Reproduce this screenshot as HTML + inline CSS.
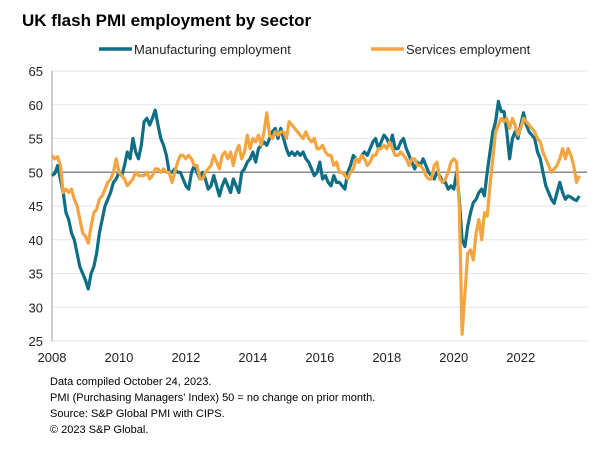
<!DOCTYPE html>
<html><head><meta charset="utf-8"><style>
body{margin:0;background:#fff;font-family:"Liberation Sans",sans-serif;}
#wrap{position:relative;width:608px;height:460px;overflow:hidden;}
</style></head><body>
<div id="wrap">
<svg id="chart" width="608" height="460" font-family="Liberation Sans, sans-serif">
<text x="22" y="26" font-size="17" font-weight="bold" fill="#000">UK flash PMI employment by sector</text>
<g>
<line x1="99" y1="49" x2="132" y2="49" stroke="#0e6e85" stroke-width="3.5"/>
<text x="134" y="54" font-size="13" fill="#222">Manufacturing employment</text>
<line x1="371" y1="49" x2="404" y2="49" stroke="#f2a541" stroke-width="3.5"/>
<text x="406" y="54" font-size="13" fill="#222">Services employment</text>
</g>
<g id="grid"></g><g id="axes"></g><g id="series"></g>
<g font-size="11" fill="#000">
<text x="50" y="385">Data compiled October 24, 2023.</text>
<text x="50" y="401">PMI (Purchasing Managers' Index) 50 = no change on prior month.</text>
<text x="50" y="417">Source: S&amp;P Global PMI with CIPS.</text>
<text x="50" y="433">© 2023 S&amp;P Global.</text>
</g>
</svg>
</div>
<script>
const yTicks=[25,30,35,40,45,50,55,60,65];
const xTickLabels=["2008","2010","2012","2014","2016","2018","2020","2022"];
const manufacturing=[
49.5,49.8,51,49,47,44,43,41,40,38,36,35,
34,32.7,35,36,38,41,43,45,46,47,48.5,49,
50,49.5,51,53,52,55,53,52,54,57.5,58,57,
58,59.2,57,55,54,52.5,50,50,50.5,50,50,49,
48,47.5,50,51,50,49,50,49,47.5,48,49.5,48,
46.5,48,49,48,47,49,48,47,50,50.5,51.5,52,
53,51.5,53.5,54,54.5,54,55,56,56.5,55,56.5,55,
53.5,52.5,53,52.5,53,52.5,53,52,51.5,50.5,49.5,50,
51.5,49,49.5,48.5,48,49.5,48.5,48.5,48,47.5,50,51,
52.5,52,51.5,52.5,53,52.5,53.5,54.5,55,53.5,54.5,55.5,
55,54,55.5,53.5,53.5,54.5,55,53.5,52.5,51.5,50.5,51.5,
51,52,51,50,49.5,49,50,49.5,48.5,48.5,47.5,48,
47.5,50,46,40,39,42,44,45.5,46,47,47.5,46.5,
50,53,56,57.5,60.5,59,59,56,52,55,56,55,
57,58.8,57,56,55.5,55,53,52,50,48,47,46,
45.4,47,48.5,47,46,46.5,46.3,46,45.8,46.5];
const services=[
52.5,52,52.3,51,47,47.5,47,47.5,46,45,43,41,
40.5,39.5,42,44,44.5,46,46.5,47.5,48.5,49,50,52,
50,49.5,49,48,48.5,49,50,49.5,49.5,49.5,50,49,
49.5,50.5,50.5,50,50.5,50,50,48.5,50,51.5,52.5,52.5,
52,52.5,52,51,51,49,49,50,50.5,51,52.5,51.5,
50.5,52.5,53,52,53,51,53,54,52,53,55.5,53.5,
55,54.5,55.5,54,56,58.8,55.5,55,56,55.5,56,56,
55,57.5,57,56.5,56,55.5,55,56,55,54.5,55,53.5,
53.5,54,53,52.5,52.5,51,51.5,50,50,49.5,49,50,
50.5,52,51.5,52.5,52,51,51.5,52.5,52.5,53.5,53.5,54,
53.5,54.5,53.5,52.5,52.5,53,52.5,52,51,52,52,51,
51,50.5,49.5,49,49,51,51.5,49,48.5,49,50,51.5,
52,51.5,45,26,32,38,38.5,37,41,43,40,44,
43.5,48,52,56,57,58,57.5,58,56.5,58,57,55.5,
56.5,58,57.5,57,56.5,56,55,54.5,53,52,51,50,
50.5,51,52,53.5,52,53.5,52.5,51,48.5,49.5];
const NS="http://www.w3.org/2000/svg";
const X0=52,PXM=2.79,Y65=71,Y25=341;
function xScale(i){return X0+i*PXM;}
function yScale(v){return Y25-(v-25)*(Y25-Y65)/40;}
const grid=document.getElementById('grid'),axes=document.getElementById('axes'),series=document.getElementById('series');
yTicks.forEach(v=>{
  const l=document.createElementNS(NS,'line');
  l.setAttribute('x1',X0);l.setAttribute('x2',587);l.setAttribute('y1',yScale(v));l.setAttribute('y2',yScale(v));
  l.setAttribute('stroke',v===50?'#8a8a8a':'#e6e6e6');l.setAttribute('stroke-width',v===50?1.5:1);
  
  
  grid.appendChild(l);
  const t=document.createElementNS(NS,'text');
  t.setAttribute('x',43);t.setAttribute('y',yScale(v)+5);t.setAttribute('text-anchor','end');t.setAttribute('font-size','13');t.setAttribute('fill','#222');
  t.textContent=v;
  
  
  axes.appendChild(t);
});
const ax=document.createElementNS(NS,'line');
ax.setAttribute('x1',X0);ax.setAttribute('x2',X0);ax.setAttribute('y1',Y65);ax.setAttribute('y2',Y25);ax.setAttribute('stroke','#999');


axes.appendChild(ax);
xTickLabels.forEach((s,k)=>{
  const t=document.createElementNS(NS,'text');
  t.setAttribute('x',xScale(k*24));t.setAttribute('y',362);t.setAttribute('text-anchor','middle');t.setAttribute('font-size','13');t.setAttribute('fill','#222');
  t.textContent=s;
  
  
  axes.appendChild(t);
});
function drawLine(arr,color,name){
  const p=document.createElementNS(NS,'polyline');
  p.setAttribute('points',arr.map((v,i)=>xScale(i).toFixed(1)+','+yScale(v).toFixed(1)).join(' '));
  p.setAttribute('fill','none');p.setAttribute('stroke',color);p.setAttribute('stroke-width','3.2');p.setAttribute('stroke-linejoin','round');
  
  
  series.appendChild(p);
}
drawLine(manufacturing,'#0e6e85','manufacturing-line');
drawLine(services,'#f2a541','services-line');
</script>
</body></html>
